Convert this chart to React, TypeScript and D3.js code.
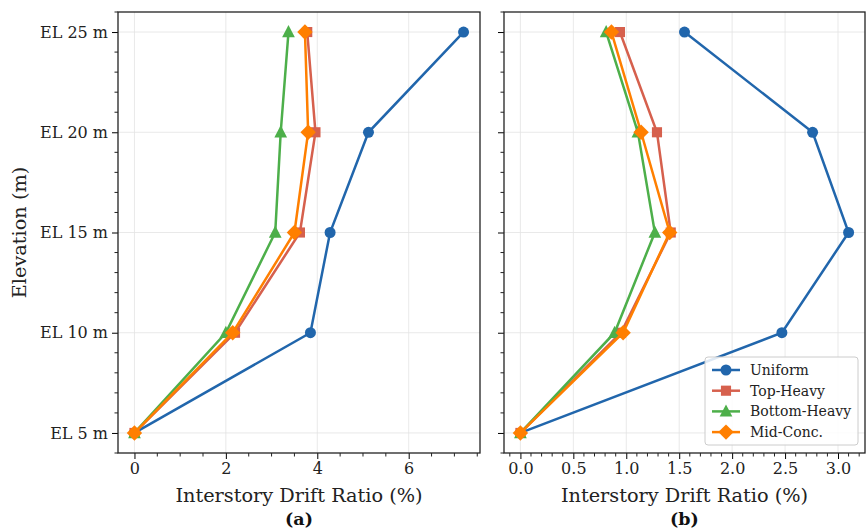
import React, { useEffect, useRef } from 'react';
import * as d3 from 'd3';

const elevations = [5, 10, 15, 20, 25];
const elevationLabels = ['EL 5 m', 'EL 10 m', 'EL 15 m', 'EL 20 m', 'EL 25 m'];
const seriesNames = ['Uniform', 'Top-Heavy', 'Bottom-Heavy', 'Mid-Conc.'];
const seriesColors = ['#2166ac', '#d6604d', '#4daf4a', '#ff7f00'];
const seriesMarkers = ['circle', 'square', 'triangle', 'diamond'];

// panel (a)
const driftA_uniform = [0, 3.85, 4.28, 5.12, 7.2];
const driftA_topHeavy = [0, 2.2, 3.62, 3.96, 3.78];
const driftA_bottomHeavy = [0, 2.0, 3.08, 3.2, 3.37];
const driftA_midConc = [0, 2.15, 3.5, 3.8, 3.73];
const ticksA = [0, 2, 4, 6];

// panel (b)
const driftB_uniform = [0, 2.47, 3.1, 2.76, 1.55];
const driftB_topHeavy = [0, 0.95, 1.42, 1.29, 0.94];
const driftB_bottomHeavy = [0, 0.89, 1.27, 1.11, 0.81];
const driftB_midConc = [0, 0.97, 1.41, 1.14, 0.86];
const ticksB = [0, 0.5, 1.0, 1.5, 2.0, 2.5, 3.0];

const FONT = 'DejaVu Serif, serif';

// matplotlib-like marker shapes
const markerPath = (kind, s) => {
  if (kind === 'circle') return d3.symbol(d3.symbolCircle, Math.PI * (s / 2) ** 2)();
  if (kind === 'square') return d3.symbol(d3.symbolSquare, s * s * 0.85)();
  if (kind === 'triangle') {
    const h = s * 1.05;
    return `M0,${-h * 0.6}L${h * 0.55},${h * 0.45}L${-h * 0.55},${h * 0.45}Z`;
  }
  const r = s * 0.7;
  return `M0,${-r}L${r},0L0,${r}L${-r},0Z`;
};

const Panel = ({ svgRef, left, right, series, ticks, tickFmt, minorStep, showYLabels, tag, legend }) => {
  useEffect(() => {
    const g = d3.select(svgRef.current).append('g');
    const top = 12;
    const bottom = 453;
    const xmax = d3.max(series.flat());
    const pad = xmax * 0.05;
    const x = d3.scaleLinear().domain([-pad, xmax + pad]).range([left, right]);
    const y = d3.scaleLinear().domain([4, 26]).range([bottom, top]);

    // grid
    g.selectAll('.gx').data(ticks).join('line')
      .attr('x1', d => x(d)).attr('x2', d => x(d)).attr('y1', top).attr('y2', bottom)
      .attr('stroke', '#e3e3e3').attr('stroke-width', 0.8);
    g.selectAll('.gy').data(elevations).join('line')
      .attr('x1', left).attr('x2', right).attr('y1', d => y(d)).attr('y2', d => y(d))
      .attr('stroke', '#e3e3e3').attr('stroke-width', 0.8);

    // lines and markers
    series.forEach((vals, si) => {
      const pts = vals.map((v, i) => [x(v), y(elevations[i])]);
      const color = seriesColors[si];
      g.append('path').attr('d', d3.line()(pts)).attr('fill', 'none')
        .attr('stroke', color).attr('stroke-width', 2.5);
      g.selectAll(null).data(pts).join('path')
        .attr('d', markerPath(seriesMarkers[si], 11))
        .attr('transform', d => `translate(${d[0]},${d[1]})`)
        .attr('fill', color);
    });

    // x axis
    const xa = g.append('g').attr('transform', `translate(0,${bottom})`)
      .call(d3.axisBottom(x).tickValues(ticks).tickFormat(tickFmt).tickSize(6).tickPadding(4));
    xa.select('.domain').remove();
    xa.selectAll('text').attr('font-family', FONT).attr('font-size', 16).attr('fill', '#222');
    const minorX = d3.range(Math.ceil(-pad / minorStep) * minorStep, xmax + pad, minorStep)
      .filter(v => !ticks.some(t => Math.abs(t - v) < 1e-6));
    g.selectAll(null).data(minorX).join('line')
      .attr('x1', d => x(d)).attr('x2', d => x(d)).attr('y1', bottom).attr('y2', bottom + 3.5)
      .attr('stroke', '#222');

    // y axis
    const ya = g.append('g').attr('transform', `translate(${left},0)`)
      .call(d3.axisLeft(y).tickValues(elevations)
        .tickFormat((d, i) => (showYLabels ? elevationLabels[i] : '')).tickSize(6).tickPadding(4));
    ya.select('.domain').remove();
    ya.selectAll('text').attr('font-family', FONT).attr('font-size', 16).attr('fill', '#222');
    const minorY = d3.range(4, 27, 1).filter(v => !elevations.includes(v));
    g.selectAll(null).data(minorY).join('line')
      .attr('x1', left - 3.5).attr('x2', left).attr('y1', d => y(d)).attr('y2', d => y(d))
      .attr('stroke', '#222');

    // frame
    g.append('rect').attr('x', left).attr('y', top).attr('width', right - left)
      .attr('height', bottom - top).attr('fill', 'none').attr('stroke', '#222').attr('stroke-width', 1.3);

    const cx = (left + right) / 2;
    g.append('text').attr('x', cx).attr('y', 502).attr('text-anchor', 'middle')
      .attr('font-family', FONT).attr('font-size', 19.3).attr('fill', '#222')
      .text('Interstory Drift Ratio (%)');
    g.append('text').attr('x', cx).attr('y', 525).attr('text-anchor', 'middle')
      .attr('font-family', FONT).attr('font-size', 17.5).attr('font-weight', 'bold').attr('fill', '#111')
      .text(tag);

    if (showYLabels) {
      g.append('text').attr('transform', `translate(26,${(top + bottom) / 2}) rotate(-90)`)
        .attr('text-anchor', 'middle').attr('font-family', FONT).attr('font-size', 19.3)
        .attr('fill', '#222').text('Elevation (m)');
    }

    if (legend) {
      const lx = 705, ly = 357;
      const lg = g.append('g');
      lg.append('rect').attr('x', lx).attr('y', ly).attr('width', 153).attr('height', 88)
        .attr('rx', 3).attr('fill', 'rgba(255,255,255,0.85)').attr('stroke', '#ccc');
      seriesNames.forEach((name, si) => {
        const yy = ly + 13 + si * 20.7;
        const color = seriesColors[si];
        lg.append('line').attr('x1', lx + 7).attr('x2', lx + 35).attr('y1', yy).attr('y2', yy)
          .attr('stroke', color).attr('stroke-width', 2.5);
        lg.append('path').attr('d', markerPath(seriesMarkers[si], 11))
          .attr('transform', `translate(${lx + 21},${yy})`).attr('fill', color);
        lg.append('text').attr('x', lx + 45).attr('y', yy + 4.8)
          .attr('font-family', FONT).attr('font-size', 14).attr('fill', '#222').text(name);
      });
    }
  }, []);
  return null;
};

export default function App() {
  const svgRef = useRef(null);
  return (
    <div style={{ position: 'absolute', left: 0, top: 0 }}>
      <svg ref={svgRef} width={866} height={532} style={{ background: '#fff', display: 'block' }} />
      <Panel svgRef={svgRef} left={118} right={480}
        series={[driftA_uniform, driftA_topHeavy, driftA_bottomHeavy, driftA_midConc]}
        ticks={ticksA} tickFmt={d3.format('d')} minorStep={0.5} showYLabels tag="(a)" legend={false} />
      <Panel svgRef={svgRef} left={504} right={865}
        series={[driftB_uniform, driftB_topHeavy, driftB_bottomHeavy, driftB_midConc]}
        ticks={ticksB} tickFmt={d3.format('.1f')} minorStep={0.1} showYLabels={false} tag="(b)" legend />
    </div>
  );
}
